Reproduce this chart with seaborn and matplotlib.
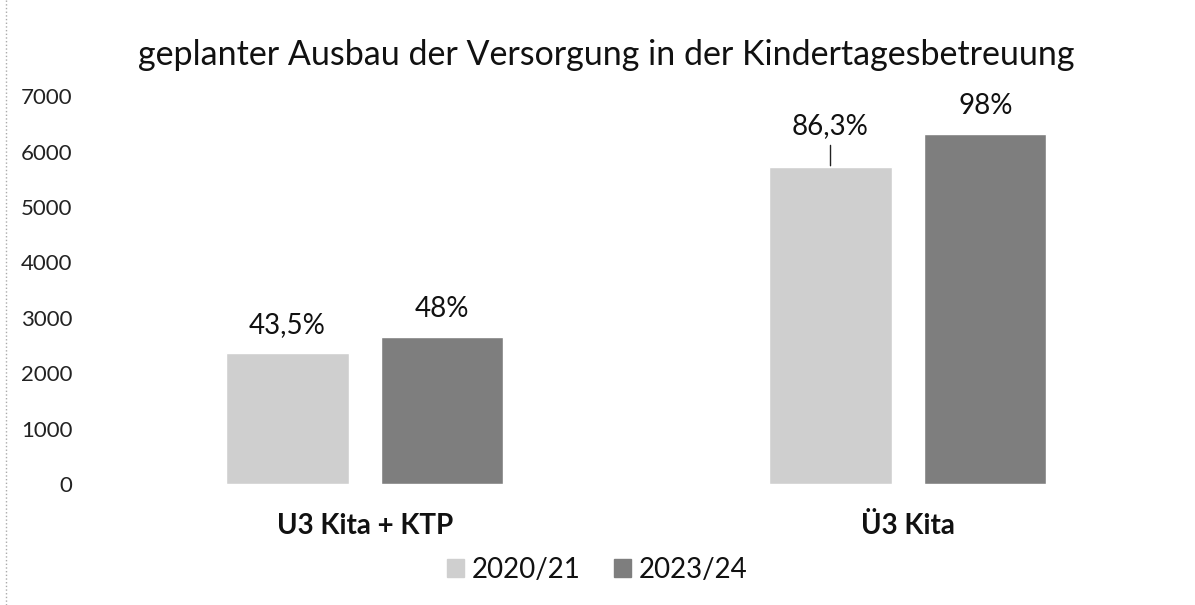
import pandas as pd
import matplotlib
matplotlib.use("Agg")
import matplotlib.pyplot as plt
import seaborn as sns

# data
categories = ["U3 Kita + KTP", "Ü3 Kita"]
years = ["2020/21", "2023/24"]
values_2020 = [2360, 5720]
values_2023 = [2650, 6320]
labels_2020 = ["43,5%", "86,3%"]
labels_2023 = ["48%", "98%"]
yticks = [0, 1000, 2000, 3000, 4000, 5000, 6000, 7000]

colors = ["#cfcfcf", "#7e7e7e"]

sns.set_theme(style="white")
plt.rcParams["font.family"] = ["Lato", "DejaVu Sans"]

df = pd.DataFrame({
  "Bereich": categories * 2,
  "Jahr": [years[0]] * len(categories) + [years[1]] * len(categories),
  "Plaetze": values_2020 + values_2023,
})

fig = plt.figure(figsize=(11.95, 6.05), dpi=100)
ax = fig.add_axes([0.078, 0.2, 0.909, 0.641])

sns.barplot(data=df, x="Bereich", y="Plaetze", hue="Jahr", order=categories,
            hue_order=years, palette=colors, width=0.57, gap=0.21,
            saturation=1, ax=ax)

ax.set_ylim(0, 7000)
ax.set_xlim(-0.5, 1.5)
ax.set_yticks(yticks)
ax.set_yticklabels([str(t) for t in yticks])
ax.set_xlabel("")
ax.set_ylabel("")
sns.despine(ax=ax, left=True, bottom=True)
ax.tick_params(axis="y", length=0, pad=15, labelsize=16, labelcolor="#222222")
ax.tick_params(axis="x", length=0, pad=21, labelsize=20, labelcolor="#111111")
for lbl in ax.get_xticklabels():
  lbl.set_fontweight("bold")

# percentage labels above the bars
for container, labels in zip(ax.containers, [labels_2020, labels_2023]):
  for bar, text in zip(container, labels):
    x = bar.get_x() + bar.get_width() / 2
    top = bar.get_height()
    if text == "86,3%":
      ax.annotate(text, xy=(x, top), xytext=(0, 20), textcoords="offset points",
                  ha="center", va="bottom", fontsize=20, color="#111111",
                  arrowprops=dict(arrowstyle="-", color="#222222", lw=1,
                                  shrinkA=2, shrinkB=1))
    else:
      ax.annotate(text, xy=(x, top), xytext=(0, 11), textcoords="offset points",
                  ha="center", va="bottom", fontsize=20, color="#111111")

fig.suptitle("geplanter Ausbau der Versorgung in der Kindertagesbetreuung",
             x=0.507, y=0.935, fontsize=24.5, color="#111111")

ax.legend_.remove()
handles = [plt.Rectangle((0, 0), 1, 1, color=c) for c in colors]
fig.legend(handles, years, loc="center", bbox_to_anchor=(0.5, 0.058),
           ncol=2, frameon=False, fontsize=20, handlelength=0.6,
           handleheight=0.6, handletextpad=0.3, columnspacing=1.2,
           labelcolor="#111111")

# left margin line from the scanned page
fig.add_artist(plt.Line2D([0.005, 0.005], [0.0, 1.0], color="#aaaaaa",
                          lw=1, ls=":", transform=fig.transFigure))

fig.savefig("out.png", dpi=100)
